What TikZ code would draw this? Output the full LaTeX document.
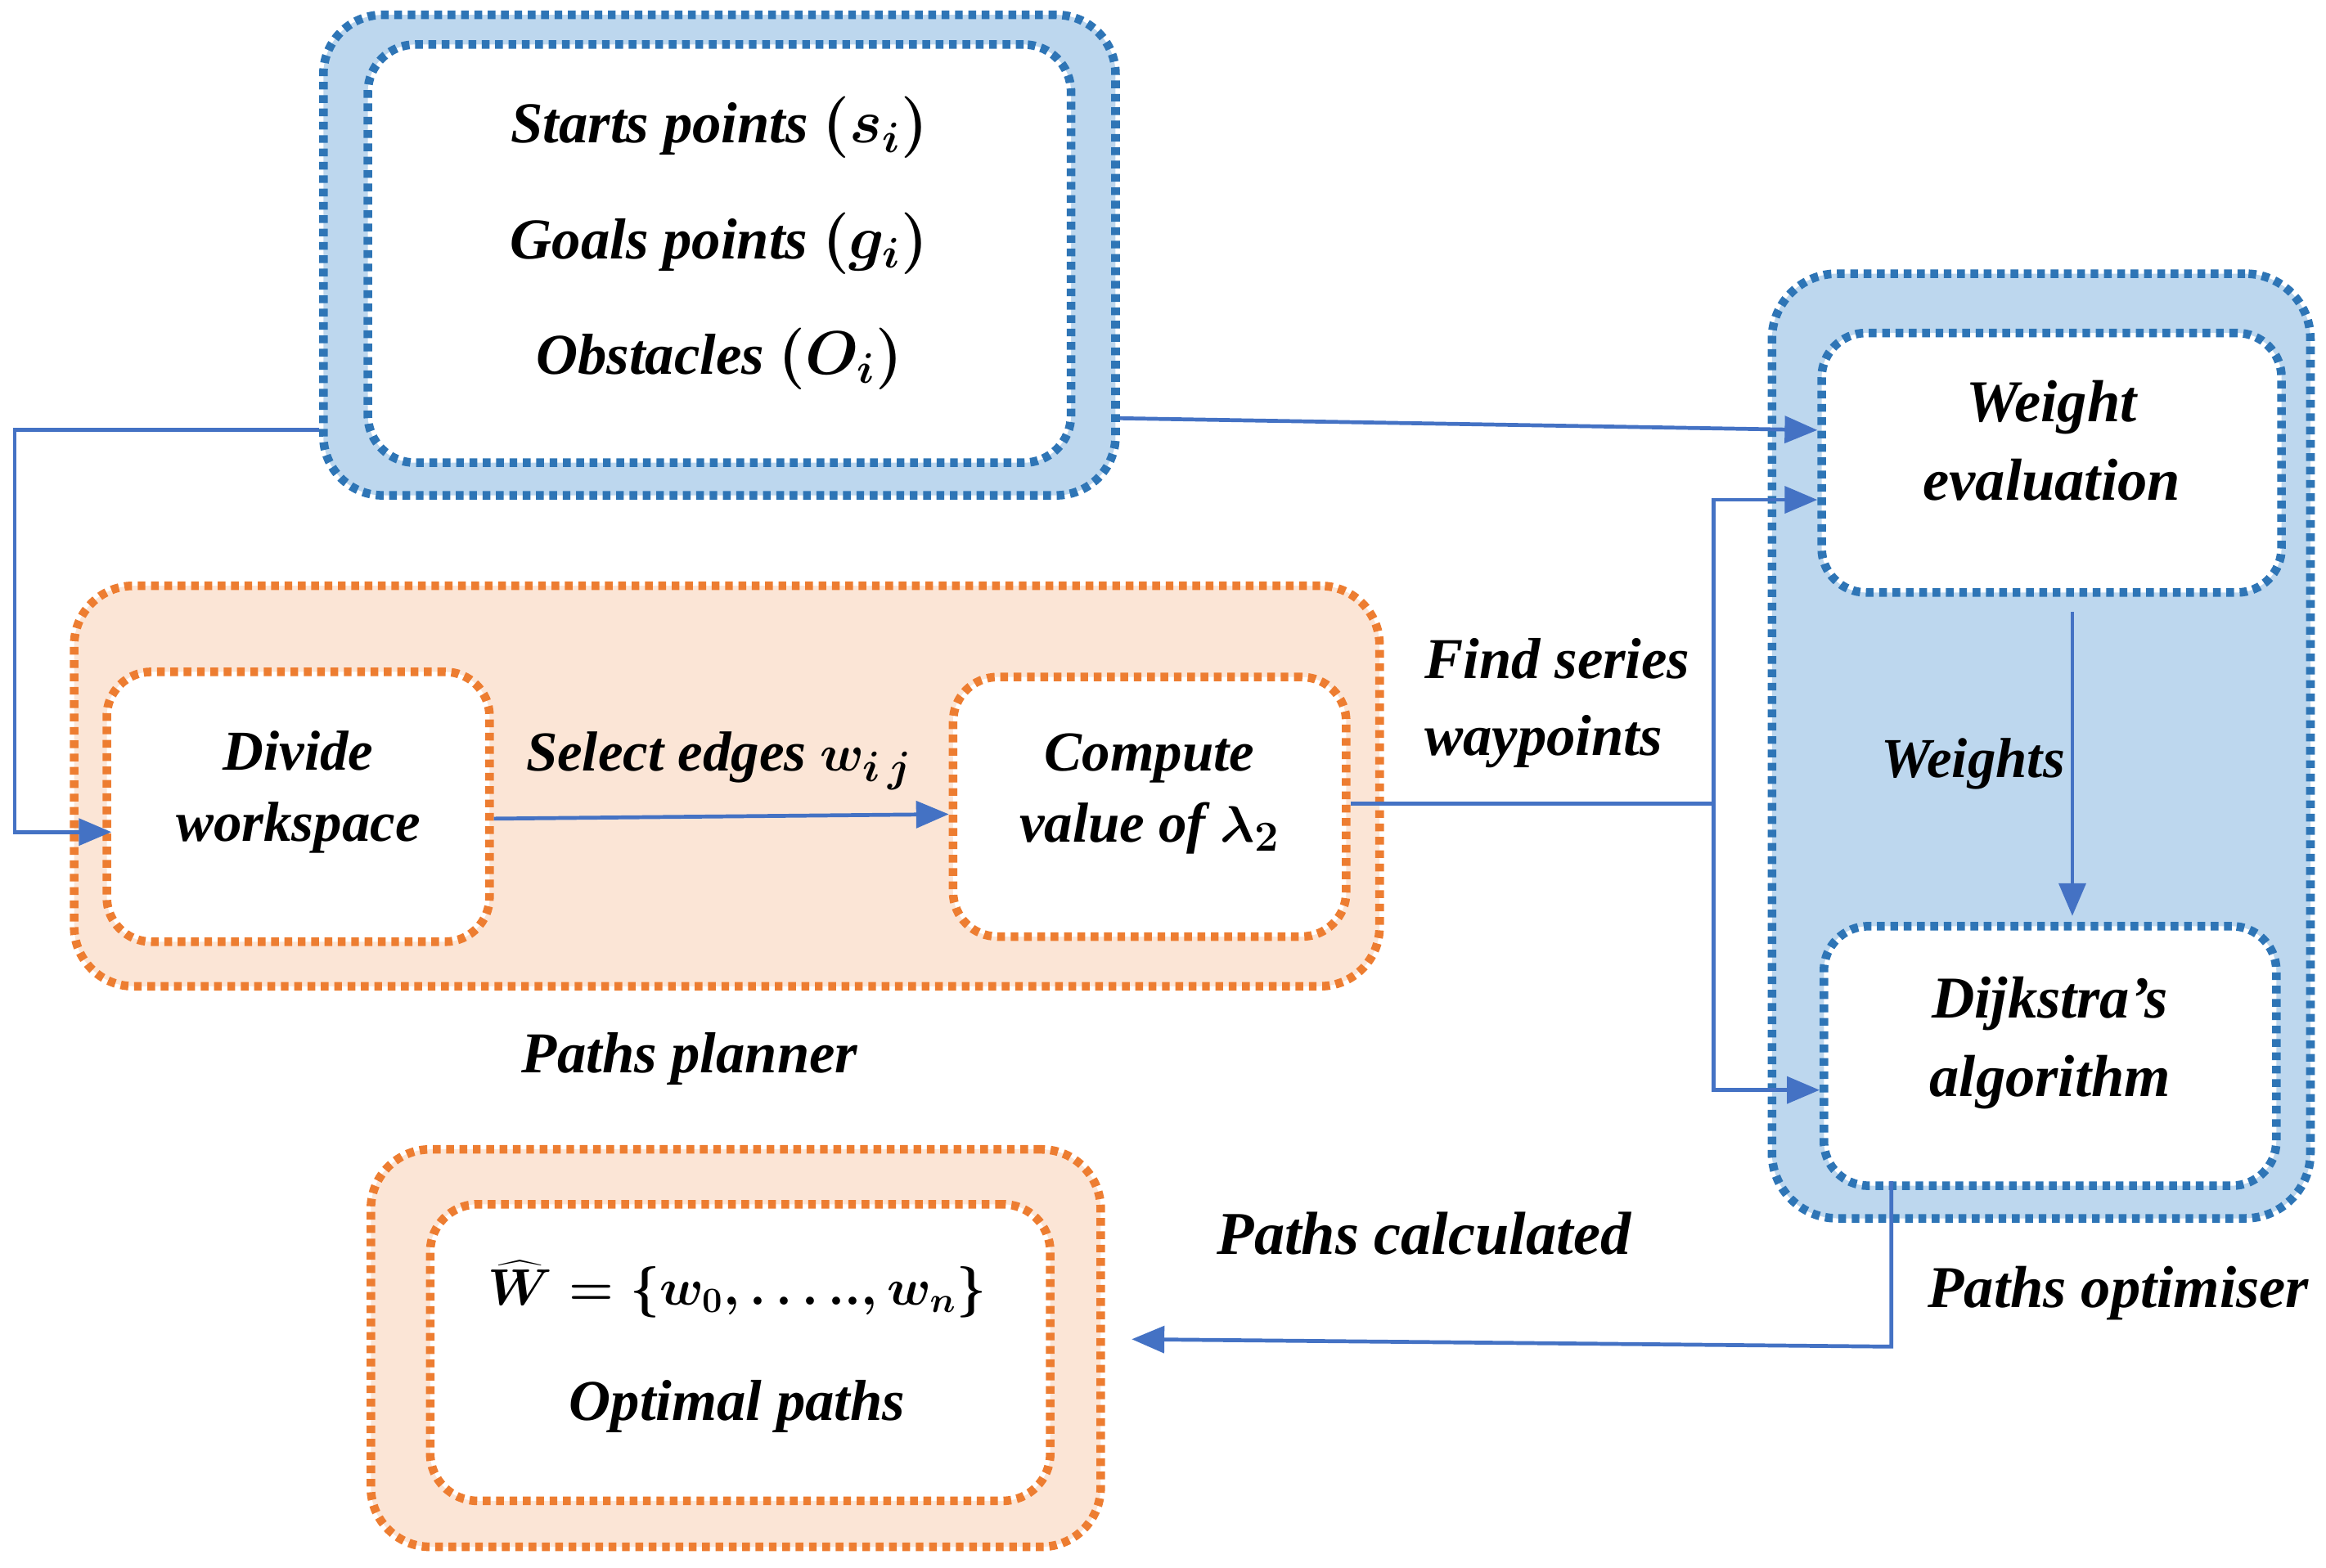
\documentclass[tikz,border=0pt]{standalone}
\usepackage{fontspec}
\setmainfont{Liberation Serif}
\usetikzlibrary{arrows.meta,calc}
\definecolor{dblue}{HTML}{2E75B6}
\definecolor{lblue}{HTML}{BDD7EE}
\definecolor{dorange}{HTML}{ED7D31}
\definecolor{lorange}{HTML}{FBE5D6}
\definecolor{arrblue}{HTML}{4472C4}
\tikzset{
  dotbox/.style={rectangle, line width=2.9pt, dash pattern=on 2.6pt off 1.9pt, inner sep=0pt, align=center},
  blueout/.style={dotbox, draw=dblue, fill=lblue, rounded corners=20pt},
  bluein/.style={dotbox, draw=dblue, fill=white, rounded corners=16pt},
  orout/.style={dotbox, draw=dorange, fill=lorange, rounded corners=20pt},
  orin/.style={dotbox, draw=dorange, fill=white, rounded corners=16pt},
  txt/.style={font=\fontsize{19}{24}\selectfont\bfseries\itshape\boldmath, align=center, inner sep=0pt},
  txtl/.style={font=\fontsize{19.5}{39}\selectfont\bfseries\itshape\boldmath, align=center, inner sep=0pt},
  arr/.style={draw=arrblue, line width=1.3pt, -{Triangle[length=11pt,width=9pt]}},
  ln/.style={draw=arrblue, line width=1.3pt},
}
\begin{document}
\begin{tikzpicture}[x=0.5pt,y=-0.5pt]
\useasboundingbox (0,0) rectangle (1568,1057);
% boxes
\node[blueout, minimum width=267pt, minimum height=162pt] (topout) at (485,172) {};
\node[bluein, minimum width=237pt, minimum height=141pt] (topin) at (485,171) {};
\node[orout, minimum width=440pt, minimum height=135pt] (planout) at (490,530) {};
\node[orin, minimum width=129pt, minimum height=91pt, rounded corners=15pt] (divide) at (201,544) {};
\node[orin, minimum width=132.5pt, minimum height=87.5pt, rounded corners=15pt] (compute) at (775,544) {};
\node[blueout, minimum width=181.5pt, minimum height=318.5pt, rounded corners=22pt] (optout) at (1376,503) {};
\node[bluein, minimum width=155pt, minimum height=87.5pt, rounded corners=15pt] (weight) at (1383,312) {};
\node[bluein, minimum width=152.5pt, minimum height=87.5pt, rounded corners=15pt] (dijk) at (1382,712) {};
\node[orout, minimum width=246pt, minimum height=134pt] (botout) at (496,909) {};
\node[orin, minimum width=209pt, minimum height=100pt] (botin) at (499,912) {};
% box texts
\node[txtl] (topin-t) at ($(topin)+(0,-7)$)
  {Starts points $(s_i)$\\ Goals points $(g_i)$\\ Obstacles $(O_i)$};
\node[txt] (divide-t) at ($(divide)+(0,-10)$) {Divide\\workspace};
\node[txt] (compute-t) at ($(compute)+(0,-9)$) {Compute\\value of $\lambda_2$};
\node[txt, font=\fontsize{20}{26.5}\selectfont\bfseries\itshape] (weight-t) at ($(weight)+(0,-15)$) {Weight\\evaluation};
\node[txt, font=\fontsize{20}{26.5}\selectfont\bfseries\itshape] (dijk-t) at ($(dijk)+(0,-9)$) {Dijkstra’s\\algorithm};
\node[txtl, font=\fontsize{18}{39}\selectfont\bfseries\itshape\boldmath] (botin-t) at ($(botin)+(-2,-4)$)
  {$\widehat{W}=\{w_0,\ldots..,w_n\}$\\ \fontsize{19.5}{39}\selectfont Optimal paths};
% labels
\node[txt] (lsel) at (485,513) {Select edges $w_{i\,j}$};
\node[txt, align=left, anchor=west, font=\fontsize{19.5}{26}\selectfont\bfseries\itshape] (lfind) at (960,474) {Find series\\waypoints};
\node[txt] (lweights) at (1330,515) {Weights};
\node[txt, font=\fontsize{19.5}{24}\selectfont\bfseries\itshape] (lplan) at (465,714) {Paths planner};
\node[txt, font=\fontsize{20}{24}\selectfont\bfseries\itshape] (lopt) at (1428,872) {Paths optimiser};
\node[txt, font=\fontsize{20.5}{24}\selectfont\bfseries\itshape] (lcalc) at (960,832) {Paths calculated};
% coordinates
\coordinate (c1) at (10,290);
\coordinate (c2) at (10,561);
\coordinate (a2) at (752,282);
\coordinate (a3) at (1228,290);
\coordinate (j) at (1155,542);
\coordinate (jt) at (1155,337);
\coordinate (jb) at (1155,735);
\coordinate (w1) at (1397,0);
\coordinate (k1) at (1275,908);
\coordinate (s1) at (0,552);
\coordinate (s2) at (0,549);
\coordinate (b1) at (0,903);
% connectors
\draw[arr] (topout.west |- c1) -- (c1) -- (c2) -- ([xshift=3pt]divide.west |- c2);
\draw[arr] (topout.east |- a2) -- (weight.west |- a3);
\draw[arr] (divide.east |- s1) -- (compute.west |- s2);
\draw[ln] (compute.east |- j) -- (j);
\draw[arr] (j) -- (jt) -- (weight.west |- jt);
\draw[arr] (j) -- (jb) -- (dijk.west |- jb);
\draw[arr] ([yshift=-5pt]weight.south -| w1) -- ([yshift=2pt]dijk.north -| w1);
\draw[arr] ([yshift=3pt]dijk.south -| k1) -- (k1) -- ([xshift=9pt]botout.east |- b1);
\end{tikzpicture}
\end{document}
